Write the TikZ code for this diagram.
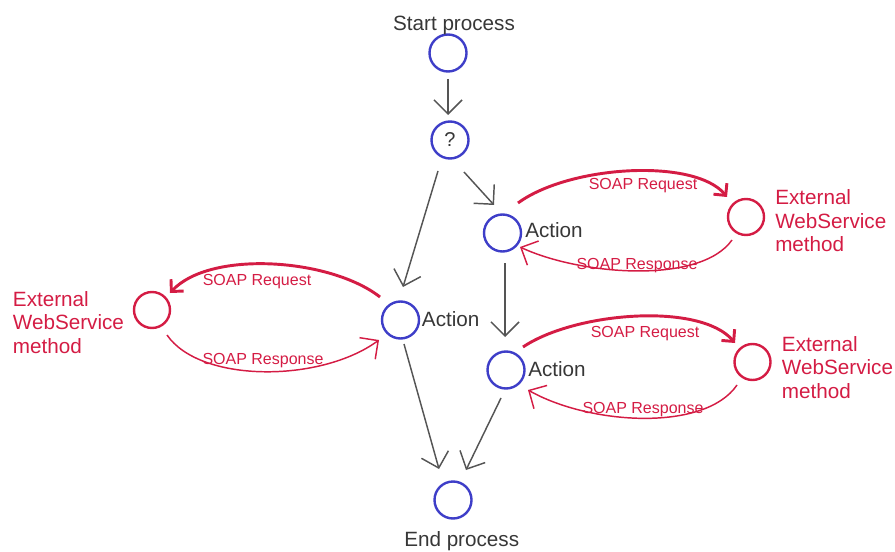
\documentclass[tikz,border=0pt]{standalone}
\usepackage{fontspec}
\setmainfont{Liberation Sans}
\usetikzlibrary{arrows.meta,calc}
\definecolor{procblue}{RGB}{62,62,200}
\definecolor{wsred}{RGB}{212,28,68}
\definecolor{flowgray}{RGB}{85,85,85}
\definecolor{labelgray}{RGB}{55,55,55}
\begin{document}
\begin{tikzpicture}[x=0.75pt,y=-0.75pt,
  state/.style={circle,draw=procblue,line width=1.8pt,minimum size=27.75pt,inner sep=0pt},
  service/.style={circle,draw=wsred,line width=1.8pt,minimum size=27pt,inner sep=0pt},
  flow/.style={draw=flowgray,line width=1.1pt,-{Straight Barb[length=10.5pt,width=21pt]}},
  request/.style={draw=wsred,line width=2.2pt,-{Straight Barb[length=6.5pt,width=13pt]}},
  response/.style={draw=wsred,line width=1.1pt,-{Straight Barb[length=10pt,width=20pt]}},
  proclabel/.style={text=labelgray,font=\fontsize{15.5pt}{17.5pt}\selectfont,inner sep=0pt},
  wslabel/.style={text=wsred,font=\fontsize{15.5pt}{17.5pt}\selectfont,inner sep=0pt,align=left,anchor=west},
  soaplabel/.style={text=wsred,font=\fontsize{12pt}{14pt}\selectfont,inner sep=0pt,anchor=base}
]
\useasboundingbox (0,0) rectangle (895,552);

% process states
\node[state] (st) at (448,53) {};
\node[state,text=labelgray,font=\fontsize{15pt}{17pt}\selectfont] (q) at (450,140) {?};
\node[state] (a1) at (502.5,233) {};
\node[state] (a2) at (400.5,320) {};
\node[state] (a3) at (506,370) {};
\node[state] (en) at (453,500) {};

% external web service methods
\node[service] (x1) at (746,217) {};
\node[service] (x2) at (152,310) {};
\node[service] (x3) at (752.5,362) {};

% state labels
\node[proclabel,anchor=base] (stlabel) at (454,30.7) {Start process};
\node[proclabel,anchor=base] (enlabel) at (461.7,546.5) {End process};
\node[proclabel,anchor=base west] (a1label) at (525,238) {Action};
\node[proclabel,anchor=base west] (a2label) at (421.7,326) {Action};
\node[proclabel,anchor=base west] (a3label) at (528,376.5) {Action};

% service labels
\node[wslabel] (x1label) at (775,220.8) {External\\WebService\\method};
\node[wslabel] (x2label) at (12.7,322.5) {External\\WebService\\method};
\node[wslabel] (x3label) at (781.7,367.5) {External\\WebService\\method};

% process flow
\draw[flow] ($(st)+(0,26)$) -- ($(q)+(-2,-25)$);
\draw[flow] ($(q)+(14,32)$) -- ($(a1)+(-8.5,-28)$);
\draw[flow] ($(q)+(-12,31)$) -- ($(a2)+(2.5,-33)$);
\draw[flow] ($(a1)+(2.5,30)$) -- ($(a3)+(-1,-33)$);
\draw[flow] ($(a2)+(3.5,24)$) -- ($(en)+(-14,-31)$);
\draw[flow] ($(a3)+(-5,28)$) -- ($(en)+(13,-30)$);

% SOAP calls, upper right
\draw[request] ($(a1)+(15.5,-30)$) .. controls ($(a1)+(67.5,-68)$) and ($(x1)+(-51,-59)$) .. ($(x1)+(-19,-20)$);
\draw[response] ($(x1)+(-14,23)$) .. controls ($(x1)+(-46,68)$) and ($(a1)+(77.5,42)$) .. ($(a1)+(17.5,14)$);
\node[soaplabel] (r1req) at (643,190) {SOAP Request};
\node[soaplabel] (r1res) at (637,269) {SOAP Response};

% SOAP calls, left
\draw[request] ($(a2)+(-20.5,-23)$) .. controls ($(a2)+(-70.5,-62)$) and ($(x2)+(58,-60)$) .. ($(x2)+(18,-17)$);
\draw[response] ($(x2)+(15,25)$) .. controls ($(x2)+(48,73)$) and ($(a2)+(-80.5,63)$) .. ($(a2)+(-21.5,20)$);
\node[soaplabel] (r2req) at (257,285) {SOAP Request};
\node[soaplabel] (r2res) at (263,364) {SOAP Response};

% SOAP calls, lower right
\draw[request] ($(a3)+(17,-23)$) .. controls ($(a3)+(69,-58)$) and ($(x3)+(-52.5,-60)$) .. ($(x3)+(-17.5,-19)$);
\draw[response] ($(x3)+(-15.5,23)$) .. controls ($(x3)+(-47.5,70)$) and ($(a3)+(84,55)$) .. ($(a3)+(22,20)$);
\node[soaplabel] (r3req) at (645,337) {SOAP Request};
\node[soaplabel] (r3res) at (643,413) {SOAP Response};
\end{tikzpicture}
\end{document}
